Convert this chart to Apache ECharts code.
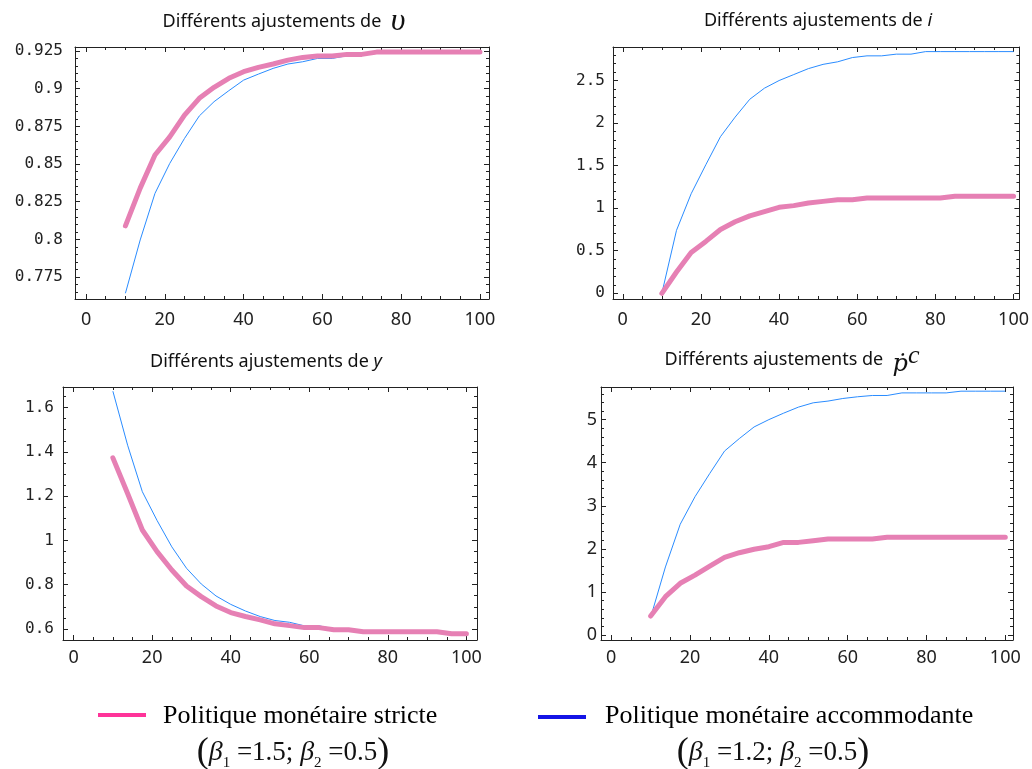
<!DOCTYPE html>
<html lang="fr">
<head>
<meta charset="UTF-8" />
<title>Différents ajustements</title>
<script src="https://cdn.jsdelivr.net/npm/echarts@6/dist/echarts.min.js"></script>
<style>html,body{margin:0;padding:0;background:#fff}</style>
</head>
<body>
<div id="main" style="width:1032px;height:769px"></div>
<script>
// periodes de simulation (axe horizontal)
var periodes = [10, 13.75, 17.5, 21.25, 25, 28.75, 32.5, 36.25, 40, 43.75, 47.5, 51.25, 55,
  58.75, 62.5, 66.25, 70, 73.75, 77.5, 81.25, 85, 88.75, 92.5, 96.25, 100];

// v
var vStricte = [0.809, 0.834, 0.856, 0.868, 0.8825, 0.8936, 0.9009, 0.9069, 0.9113, 0.9142, 0.9164, 0.919, 0.9208,
  0.9217, 0.9217, 0.9228, 0.9228, 0.9243, 0.9243, 0.9243, 0.9243, 0.9243, 0.9243, 0.9243, 0.9243];
var vAccom = [0.7642, 0.7996, 0.8305, 0.8504, 0.867, 0.8819, 0.8914, 0.8987, 0.9057, 0.9097, 0.9135, 0.9164, 0.9179,
  0.9201, 0.9201, 0.9219, 0.9223, 0.9235, 0.9243, 0.9243, 0.9243, 0.9243, 0.9243, 0.9243, 0.9243];
// i
var iStricte = [0, 0.25, 0.48, 0.61, 0.75, 0.84, 0.91, 0.96, 1.01, 1.03, 1.06, 1.08, 1.1,
  1.1, 1.12, 1.12, 1.12, 1.12, 1.12, 1.12, 1.14, 1.14, 1.14, 1.14, 1.14];
var iAccom = [0, 0.74, 1.17, 1.51, 1.84, 2.07, 2.28, 2.41, 2.5, 2.57, 2.64, 2.69, 2.72,
  2.77, 2.79, 2.79, 2.81, 2.81, 2.84, 2.84, 2.84, 2.84, 2.84, 2.84, 2.84];
// y
var yStricte = [1.373, 1.212, 1.047, 0.949, 0.866, 0.794, 0.746, 0.704, 0.674, 0.656, 0.641, 0.623, 0.615,
  0.606, 0.606, 0.596, 0.596, 0.587, 0.587, 0.587, 0.587, 0.587, 0.587, 0.578, 0.578];
var yAccom = [1.674, 1.43, 1.22, 1.09, 0.971, 0.874, 0.803, 0.749, 0.711, 0.681, 0.656, 0.638, 0.63,
  0.614, 0.614, 0.6, 0.6, 0.592, 0.592, 0.592, 0.592, 0.592, 0.592, 0.58, 0.58];
// p point c
var pcStricte = [0.44, 0.89, 1.2, 1.39, 1.6, 1.8, 1.91, 1.99, 2.05, 2.15, 2.15, 2.19, 2.23,
  2.23, 2.23, 2.23, 2.27, 2.27, 2.27, 2.27, 2.27, 2.27, 2.27, 2.27, 2.27];
var pcAccom = [0.41, 1.58, 2.57, 3.21, 3.75, 4.27, 4.56, 4.83, 5.0, 5.15, 5.29, 5.39, 5.43,
  5.49, 5.53, 5.56, 5.56, 5.62, 5.62, 5.62, 5.62, 5.66, 5.66, 5.66, 5.66];

// graduations
var xTicks = [0, 20, 40, 60, 80, 100];
var vTicks = [0.775, 0.8, 0.825, 0.85, 0.875, 0.9, 0.925];
var iTicks = [0, 0.5, 1, 1.5, 2, 2.5];
var yTicks = [0.6, 0.8, 1, 1.2, 1.4, 1.6];
var pcTicks = [0, 1, 2, 3, 4, 5];

var chart = echarts.init(document.getElementById('main'));

var rose = '#e680b4';
var bleu = '#2a8cff';
var cadre = '#222';
var mono = 'DejaVu Sans Mono';
var sans = 'Noto Sans';

function pts(xs, ys) {
  return xs.map(function (x, i) { return [x, ys[i]]; });
}

// petites graduations entre les grandes
function mineurs(a, b, pas, majeurs) {
  var out = [];
  var k0 = Math.ceil(a / pas - 1e-9), k1 = Math.floor(b / pas + 1e-9);
  for (var k = k0; k <= k1; k++) {
    var v = +(k * pas).toFixed(6);
    if (majeurs.indexOf(v) < 0) out.push(v);
  }
  return out;
}

var panneaux = [
  { grid: { left: 75, top: 47, width: 414, height: 252 }, xr: [-2.8, 102.3], yr: [0.7604, 0.9277],
    yt: vTicks, yPas: 0.005, yFont: mono, ySize: 16, yMarge: 12, xMarge: 12, strict: vStricte, acc: vAccom },
  { grid: { left: 613, top: 47, width: 410, height: 252 }, xr: [-2.5, 101.5], yr: [-0.067, 2.894],
    yt: iTicks, yPas: 0.1, yFont: mono, ySize: 16, yMarge: 8, xMarge: 12, strict: iStricte, acc: iAccom },
  { grid: { left: 63, top: 387, width: 414, height: 253 }, xr: [-2.7, 102.7], yr: [0.55, 1.693],
    yt: yTicks, yPas: 0.05, yFont: mono, ySize: 16, yMarge: 9, xMarge: 9, strict: yStricte, acc: yAccom },
  { grid: { left: 601, top: 387, width: 412, height: 253 }, xr: [-2.6, 101.95], yr: [-0.116, 5.757],
    yt: pcTicks, yPas: 0.2, yFont: sans, ySize: 18, yMarge: 4, xMarge: 9, strict: pcStricte, acc: pcAccom }
];

var grids = [], xAxes = [], yAxes = [], series = [];

panneaux.forEach(function (p, gi) {
  grids.push(p.grid);
  var xMin = mineurs(p.xr[0], p.xr[1], 5, xTicks);
  var yMin = mineurs(p.yr[0], p.yr[1], p.yPas, p.yt);
  var ligne = { show: true, onZero: false, lineStyle: { color: cadre, width: 1 } };
  function axe(pos, min, max, ticks, len, showLine, label) {
    return {
      gridIndex: gi, type: 'value', position: pos, min: min, max: max,
      axisLine: showLine ? ligne : { show: false, onZero: false },
      axisTick: { show: true, inside: true, length: len, customValues: ticks, lineStyle: { color: cadre } },
      axisLabel: label || { show: false },
      splitLine: { show: false }
    };
  }
  var xLab = { customValues: xTicks, margin: p.xMarge, fontFamily: sans, fontSize: 18, color: '#222' };
  var yLab = { customValues: p.yt, margin: p.yMarge, fontFamily: p.yFont, fontSize: p.ySize, color: '#222' };
  xAxes.push(axe('bottom', p.xr[0], p.xr[1], xTicks, 5, true, xLab));
  xAxes.push(axe('bottom', p.xr[0], p.xr[1], xMin, 3, false));
  xAxes.push(axe('top', p.xr[0], p.xr[1], xTicks, 5, true));
  xAxes.push(axe('top', p.xr[0], p.xr[1], xMin, 3, false));
  yAxes.push(axe('left', p.yr[0], p.yr[1], p.yt, 5, true, yLab));
  yAxes.push(axe('left', p.yr[0], p.yr[1], yMin, 3, false));
  yAxes.push(axe('right', p.yr[0], p.yr[1], p.yt, 5, true));
  yAxes.push(axe('right', p.yr[0], p.yr[1], yMin, 3, false));

  series.push({
    name: 'Politique monétaire accommodante', type: 'line', xAxisIndex: gi * 4, yAxisIndex: gi * 4,
    data: pts(periodes, p.acc), symbol: 'none', z: 2,
    lineStyle: { color: bleu, width: 1 }
  });
  series.push({
    name: 'Politique monétaire stricte', type: 'line', xAxisIndex: gi * 4, yAxisIndex: gi * 4,
    data: pts(periodes, p.strict), symbol: 'none', z: 3,
    lineStyle: { color: rose, width: 5, cap: 'round', join: 'round' }
  });
});

var titreRich = {
  a: { fontFamily: sans, fontSize: 18, color: '#111' },
  ai: { fontFamily: sans, fontSize: 18, fontStyle: 'italic', color: '#111' },
  m: { fontFamily: 'Liberation Serif', fontSize: 32, fontStyle: 'italic', color: '#111' },
  p: { fontFamily: 'DejaVu Serif', fontSize: 24, fontStyle: 'italic', color: '#111', verticalAlign: 'bottom', lineHeight: 34 },
  c: { fontFamily: 'Liberation Serif', fontSize: 26, fontStyle: 'italic', color: '#111', verticalAlign: 'top', lineHeight: 20 }
};
var formuleRich = {
  par: { fontFamily: 'Liberation Serif', fontSize: 36, color: '#000', lineHeight: 36 },
  b: { fontFamily: 'Liberation Serif', fontSize: 28, fontStyle: 'italic', color: '#000' },
  s: { fontFamily: 'Liberation Serif', fontSize: 15, color: '#000', verticalAlign: 'bottom', lineHeight: 14 },
  t: { fontFamily: 'Liberation Serif', fontSize: 27, color: '#000' }
};

function texte(x, y, txt, extra) {
  var st = { text: txt, align: 'center', verticalAlign: 'middle', fill: '#111' };
  for (var k in extra) st[k] = extra[k];
  return { type: 'text', x: x, y: y, style: st };
}

var graphics = [
  texte(284, 22, '{a|Différents ajustements de  }{m|υ}', { rich: titreRich }),
  texte(818, 21, '{a|Différents ajustements de }{ai|i}', { rich: titreRich }),
  texte(266, 362, '{a|Différents ajustements de }{ai|y}', { rich: titreRich }),
  texte(792, 360, '{a|Différents ajustements de  }{p|ṗ}{c|c}', { rich: titreRich }),
  // legende
  { type: 'line', shape: { x1: 98, y1: 715, x2: 146, y2: 715 }, style: { stroke: '#ff3399', lineWidth: 4 } },
  { type: 'line', shape: { x1: 538, y1: 717, x2: 586, y2: 717 }, style: { stroke: '#1414e6', lineWidth: 4 } },
  { type: 'text', x: 163, y: 716, style: { text: 'Politique monétaire stricte', fontFamily: 'Liberation Serif', fontSize: 26, fill: '#000', align: 'left', verticalAlign: 'middle' } },
  { type: 'text', x: 605, y: 716, style: { text: 'Politique monétaire accommodante', fontFamily: 'Liberation Serif', fontSize: 26, fill: '#000', align: 'left', verticalAlign: 'middle' } },
  texte(293, 753, '{par|(}{b|β}{s|1}{t| =1.5; }{b|β}{s|2}{t| =0.5}{par|)}', { rich: formuleRich }),
  texte(773, 753, '{par|(}{b|β}{s|1}{t| =1.2; }{b|β}{s|2}{t| =0.5}{par|)}', { rich: formuleRich })
];

chart.setOption({
  animation: false,
  backgroundColor: '#fff',
  grid: grids,
  xAxis: xAxes,
  yAxis: yAxes,
  series: series,
  graphic: graphics
});
</script>
</body>
</html>
